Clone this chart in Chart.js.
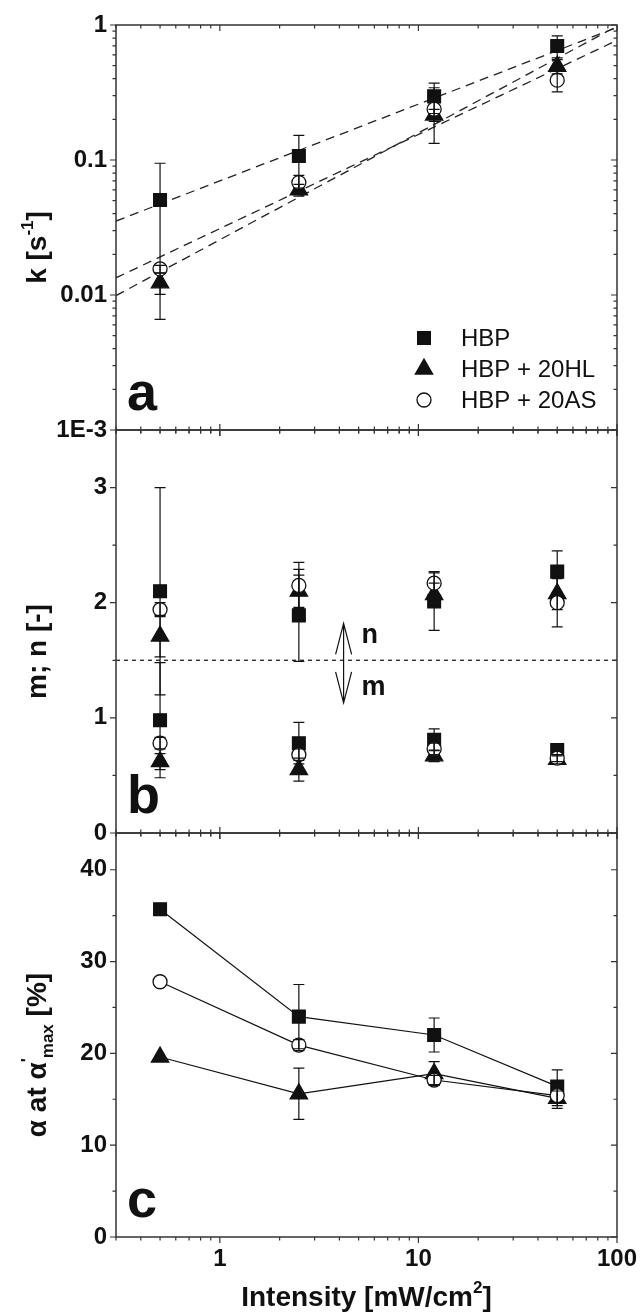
<!DOCTYPE html>
<html>
<head>
<meta charset="utf-8">
<title>k, m; n and alpha vs intensity</title>
<script src="https://cdn.jsdelivr.net/npm/chart.js@4.4.1/dist/chart.umd.min.js"></script>
<style>
  html, body { margin: 0; padding: 0; background: #fff; }
  body { position: relative; width: 640px; height: 1316px; overflow: hidden; }
  canvas { position: absolute; left: 0; }
</style>
</head>
<body>
<canvas id="chartA" width="640" height="445" style="top:0px"></canvas>
<canvas id="chartB" width="640" height="433" style="top:415px"></canvas>
<canvas id="chartC" width="640" height="498" style="top:818px"></canvas>
<script>
// values
const intensity = [0.5, 2.5, 12, 50];
const seriesNames = ['HBP', 'HBP + 20HL', 'HBP + 20AS'];

// a: k [s-1]
const kHBP = [0.0506, 0.107, 0.296, 0.70];
const kHL = [0.0123, 0.060, 0.215, 0.494];
const kAS = [0.0156, 0.068, 0.238, 0.39];
const kErrHBP = [0.044, 0.045, 0.075, 0.13];
const kErrHL = [0.0022, 0.006, 0.022, 0.06];
const kErrAS = [0.001, 0.009, 0.105, 0.07];
// dashed fits, value at both ends of the intensity range
const fitEnds = [0.3, 100];
const fitHBP = [0.0353, 0.96];
const fitHL = [0.0099, 0.98];
const fitAS = [0.0134, 0.77];

// b: m; n [-]
const nHBP = [2.10, 1.89, 2.01, 2.27];
const nHL = [1.71, 2.10, 2.07, 2.08];
const nAS = [1.94, 2.15, 2.17, 2.00];
const nErrHBP = [0.90, 0.40, 0.25, 0.18];
const nErrHL = [0.18, 0.14, 0.10, 0.14];
const nErrAS = [0.06, 0.20, 0.10, 0.21];
const mHBP = [0.98, 0.78, 0.81, 0.72];
const mHL = [0.62, 0.55, 0.67, 0.64];
const mAS = [0.78, 0.68, 0.73, 0.65];
const mErrHBP = [0.50, 0.18, 0.095, 0.05];
const mErrHL = [0.07, 0.10, 0.05, 0.04];
const mErrAS = [0.05, 0.05, 0.05, 0.03];
const mnDivider = [1.5, 1.5];
const arrowAt = 4.2;
const arrowSpan = [1.13, 1.82];

// c: alpha at alpha'max [%]
const alphaHBP = [35.7, 24.0, 22.0, 16.4];
const alphaHL = [19.6, 15.6, 17.8, 15.1];
const alphaAS = [27.8, 20.9, 17.1, 15.4];
const alphaErrHBP = [0, 3.5, 1.85, 1.8];
const alphaErrHL = [0, 2.8, 1.3, 0.8];
const alphaErrAS = [0, 0.6, 0.5, 1.4];

// axes
const xTickValues = [1, 10, 100];
const xTickLabels = ['1', '10', '100'];
const kTickValues = [0.001, 0.01, 0.1, 1];
const kTickLabels = ['1E-3', '0.01', '0.1', '1'];
const mnTickValues = [0, 1, 2, 3];
const mnTickLabels = ['0', '1', '2', '3'];
const mnMinorTicks = [0.5, 1.5, 2.5];
const alphaTickValues = [0, 10, 20, 30, 40];
const alphaTickLabels = ['0', '10', '20', '30', '40'];
const alphaMinorTicks = [5, 15, 25, 35];

const INK = '#111';
const AXIS = '#333';
const FONT = "'Liberation Sans', Arial, Helvetica, sans-serif";
Chart.defaults.font.family = FONT;
Chart.defaults.color = INK;

// 2..9 marks inside each decade
function logMinor(min, max) {
  const out = [];
  for (let e = Math.floor(Math.log10(min)); e < Math.ceil(Math.log10(max)); e++) {
    for (let d = 2; d <= 9; d++) {
      const v = d * Math.pow(10, e);
      if (v >= min * 0.999 && v <= max) out.push(v);
    }
  }
  return out;
}
const xMinorTicks = logMinor(0.3, 100);
const kMinorTicks = logMinor(0.001, 1);

// open circles sit on top, then triangles, squares at the back
const marks = [
  { pointStyle: 'rect', pointRadius: 9, pointBackgroundColor: INK, order: 2 },
  { pointStyle: 'triangle', pointRadius: 10, pointBackgroundColor: INK, order: 1 },
  { pointStyle: 'circle', pointRadius: 7, pointBackgroundColor: '#fff', order: 0 }
];

function series(i, ys, errs, withLine) {
  return Object.assign({
    label: seriesNames[i],
    data: intensity.map((x, j) => ({ x: x, y: ys[j] })),
    errors: errs,
    showLine: withLine,
    borderColor: INK,
    borderWidth: 1.2,
    pointBorderColor: INK,
    pointBorderWidth: 1.3
  }, marks[i]);
}

function guide(ys, dash) {
  return {
    data: fitEnds.map((x, j) => ({ x: x, y: ys[j] })),
    showLine: true,
    borderColor: '#222',
    borderWidth: 1.3,
    borderDash: dash,
    pointRadius: 0,
    order: 5
  };
}

// tick marks are drawn by the decor plugin; grid.tickLength only spaces the labels
function yAxis(type, min, max, values, labels) {
  return {
    type: type, min: min, max: max,
    afterFit: s => { s.width = 116; },
    afterBuildTicks: s => { s.ticks = values.map(v => ({ value: v })); },
    ticks: {
      callback: v => { const i = values.indexOf(v); return i < 0 ? '' : labels[i]; },
      font: { size: 24, weight: 'bold' }, color: INK, padding: 0, autoSkip: false
    },
    grid: { display: false, drawTicks: true, tickLength: 9 },
    border: { display: false }
  };
}

function xAxis(shown) {
  return {
    type: 'logarithmic', min: 0.3, max: 100, display: shown,
    afterFit: s => { if (shown) s.height = 79; },
    afterBuildTicks: s => { s.ticks = xTickValues.map(v => ({ value: v })); },
    ticks: {
      callback: v => { const i = xTickValues.indexOf(v); return i < 0 ? '' : xTickLabels[i]; },
      font: { size: 24, weight: 'bold' }, color: INK, padding: 0, autoSkip: false, maxRotation: 0
    },
    grid: { display: false, drawTicks: true, tickLength: 8 },
    border: { display: false }
  };
}

// text with super/subscripts, centred on (x, y)
function richText(ctx, parts, x, y, size, rotated) {
  ctx.save();
  ctx.translate(x, y);
  if (rotated) ctx.rotate(-Math.PI / 2);
  const fontFor = k => 'bold ' + (k ? Math.round(size * 0.62) : size) + 'px ' + FONT;
  let total = 0;
  parts.forEach(p => { ctx.font = fontFor(p[1]); total += ctx.measureText(p[0]).width; });
  let cx = -total / 2;
  ctx.fillStyle = INK;
  ctx.textAlign = 'left';
  ctx.textBaseline = 'alphabetic';
  parts.forEach(p => {
    ctx.font = fontFor(p[1]);
    const dy = p[1] === 'sup' ? -size * 0.45 : p[1] === 'sub' ? size * 0.25 : 0;
    ctx.fillText(p[0], cx, dy);
    cx += ctx.measureText(p[0]).width;
  });
  ctx.restore();
}

function drawErrorBars(chart) {
  const ctx = chart.ctx, a = chart.chartArea;
  ctx.save();
  ctx.beginPath();
  ctx.rect(a.left, a.top - 1, a.right - a.left, a.bottom - a.top + 2);
  ctx.clip();
  ctx.strokeStyle = INK;
  ctx.lineWidth = 1.2;
  chart.data.datasets.forEach((ds, i) => {
    if (!ds.errors) return;
    const meta = chart.getDatasetMeta(i);
    const ys = chart.scales[meta.yAxisID];
    meta.data.forEach((pt, j) => {
      const e = ds.errors[j];
      if (!e) return;
      const v = ds.data[j].y;
      const top = ys.getPixelForValue(v + e);
      const bot = ys.getPixelForValue(Math.max(v - e, ys.min));
      ctx.beginPath();
      ctx.moveTo(pt.x, top); ctx.lineTo(pt.x, bot);
      ctx.moveTo(pt.x - 5.5, top); ctx.lineTo(pt.x + 5.5, top);
      ctx.moveTo(pt.x - 5.5, bot); ctx.lineTo(pt.x + 5.5, bot);
      ctx.stroke();
    });
  });
  ctx.restore();
}

function decor(spec) {
  return {
    id: 'decor',
    afterDatasetsDraw(chart) { drawErrorBars(chart); },
    afterDraw(chart) {
      const ctx = chart.ctx, a = chart.chartArea;
      const x = chart.scales.x, y = chart.scales.y;
      ctx.save();
      ctx.strokeStyle = AXIS;
      ctx.lineWidth = 1.5;
      ctx.strokeRect(a.left, a.top, a.right - a.left, a.bottom - a.top);

      ctx.lineWidth = 1.2;
      ctx.beginPath();
      const xMark = (v, len) => {
        const px = x.getPixelForValue(v);
        if (spec.topTicks) { ctx.moveTo(px, a.top); ctx.lineTo(px, a.top + len); }
        ctx.moveTo(px, spec.crossBottom ? a.bottom - len : a.bottom);
        ctx.lineTo(px, a.bottom + len);
      };
      const yMark = (v, len) => {
        const py = y.getPixelForValue(v);
        ctx.moveTo(a.left, py); ctx.lineTo(a.left - len, py);
        ctx.moveTo(a.right, py); ctx.lineTo(a.right - len, py);
      };
      xTickValues.forEach(v => xMark(v, 6));
      xMinorTicks.forEach(v => xMark(v, 3.5));
      spec.yMajor.forEach(v => yMark(v, 6));
      spec.yMinor.forEach(v => yMark(v, 3.5));
      ctx.stroke();

      ctx.fillStyle = INK;
      ctx.font = 'bold 54px ' + FONT;
      ctx.textAlign = 'left';
      ctx.textBaseline = 'alphabetic';
      ctx.fillText(spec.letter, a.left + 11, a.bottom - 20);

      richText(ctx, spec.yTitle, 46, (a.top + a.bottom) / 2 + 20, 28, true);
      if (spec.extra) spec.extra(chart);
      ctx.restore();
    }
  };
}

function baseOptions(padTop, padBottom, showX, yScale) {
  return {
    responsive: false,
    animation: false,
    events: [],
    layout: { padding: { left: 0, right: 23, top: padTop, bottom: padBottom } },
    scales: { x: xAxis(showX), y: yScale },
    plugins: { legend: { display: false }, tooltip: { enabled: false } }
  };
}

// panel a
new Chart(document.getElementById('chartA'), {
  type: 'scatter',
  data: {
    datasets: [
      series(0, kHBP, kErrHBP, false),
      series(1, kHL, kErrHL, false),
      series(2, kAS, kErrAS, false),
      guide(fitHBP, [9, 6]),
      guide(fitHL, [9, 6]),
      guide(fitAS, [9, 6])
    ]
  },
  options: baseOptions(25, 15, false, yAxis('logarithmic', 0.001, 1, kTickValues, kTickLabels)),
  plugins: [decor({
    letter: 'a', topTicks: true, crossBottom: true,
    yMajor: kTickValues, yMinor: kMinorTicks,
    yTitle: [['k [s', ''], ['-1', 'sup'], [']', '']],
    extra(chart) {
      const ctx = chart.ctx;
      ctx.font = '24px ' + FONT;
      ctx.textBaseline = 'middle';
      seriesNames.forEach((name, i) => {
        const yy = 338 + i * 31;
        ctx.fillStyle = marks[i].pointBackgroundColor;
        ctx.strokeStyle = INK;
        ctx.lineWidth = 1.3;
        Chart.helpers.drawPoint(ctx, {
          pointStyle: marks[i].pointStyle, radius: marks[i].pointRadius, rotation: 0, borderWidth: 1.3
        }, 424, yy);
        ctx.fillStyle = INK;
        ctx.fillText(name, 461, yy + 1);
      });
    }
  })]
});

// panel b
new Chart(document.getElementById('chartB'), {
  type: 'scatter',
  data: {
    datasets: [
      series(0, nHBP, nErrHBP, false),
      series(1, nHL, nErrHL, false),
      series(2, nAS, nErrAS, false),
      series(0, mHBP, mErrHBP, false),
      series(1, mHL, mErrHL, false),
      series(2, mAS, mErrAS, false),
      guide(mnDivider, [4, 4])
    ]
  },
  options: baseOptions(15, 15, false, yAxis('linear', 0, 3.5, mnTickValues, mnTickLabels)),
  plugins: [decor({
    letter: 'b', topTicks: true, crossBottom: true,
    yMajor: mnTickValues, yMinor: mnMinorTicks,
    yTitle: [['m; n [-]', '']],
    extra(chart) {
      const ctx = chart.ctx, x = chart.scales.x, y = chart.scales.y;
      const ax = x.getPixelForValue(arrowAt);
      const lo = y.getPixelForValue(arrowSpan[0]), hi = y.getPixelForValue(arrowSpan[1]);
      ctx.strokeStyle = INK;
      ctx.lineWidth = 1.2;
      ctx.beginPath();
      ctx.moveTo(ax, hi); ctx.lineTo(ax, lo);
      ctx.moveTo(ax - 8, hi + 31); ctx.lineTo(ax, hi); ctx.lineTo(ax + 8, hi + 31);
      ctx.moveTo(ax - 8, lo - 31); ctx.lineTo(ax, lo); ctx.lineTo(ax + 8, lo - 31);
      ctx.stroke();
      ctx.fillStyle = INK;
      ctx.font = 'bold 27px ' + FONT;
      ctx.textAlign = 'left';
      ctx.textBaseline = 'alphabetic';
      ctx.fillText('n', ax + 18, y.getPixelForValue(1.65));
      ctx.fillText('m', ax + 18, y.getPixelForValue(1.2));
    }
  })]
});

// panel c
new Chart(document.getElementById('chartC'), {
  type: 'scatter',
  data: {
    datasets: [
      series(0, alphaHBP, alphaErrHBP, true),
      series(1, alphaHL, alphaErrHL, true),
      series(2, alphaAS, alphaErrAS, true)
    ]
  },
  options: baseOptions(15, 0, true, yAxis('linear', 0, 44, alphaTickValues, alphaTickLabels)),
  plugins: [decor({
    letter: 'c', topTicks: true, crossBottom: false,
    yMajor: alphaTickValues, yMinor: alphaMinorTicks,
    yTitle: [['\u03b1 at \u03b1', ''], ["'", 'sup'], ['max', 'sub'], [' [%]', '']],
    extra(chart) {
      const a = chart.chartArea;
      richText(chart.ctx, [['Intensity [mW/cm', ''], ['2', 'sup'], [']', '']],
        (a.left + a.right) / 2, a.bottom + 69, 28, false);
    }
  })]
});
</script>
</body>
</html>
